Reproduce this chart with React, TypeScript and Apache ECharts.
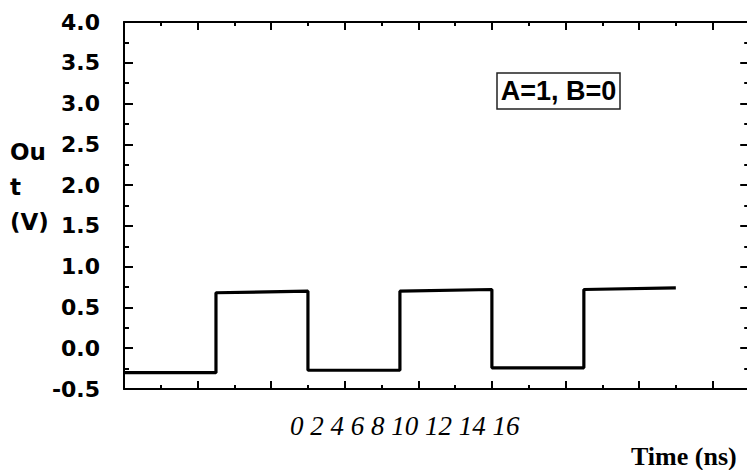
import React, { useEffect, useRef } from "react";
import * as echarts from "echarts";

// Data
const timeNs = [0, 2.5, 2.5, 5, 5, 7.5, 7.5, 10, 10, 12.5, 12.5, 15];
const outVolts = [-0.3, -0.3, 0.68, 0.7, -0.27, -0.27, 0.7, 0.72, -0.24, -0.24, 0.72, 0.74];
const xTickLabels = ["0", "2", "4", "6", "8", "10", "12", "14", "16"];
const yAxisNameLines = ["Ou", "t", "(V)"];
const xAxisTitle = "Time (ns)";
const annotation = "A=1, B=0";

export default function App() {
  const ref = useRef<HTMLDivElement>(null);

  useEffect(() => {
    if (!ref.current) return;
    const chart = echarts.init(ref.current, undefined, { renderer: "svg" });
    const seriesData = timeNs.map((t, i) => [t, outVolts[i]]);
    const axisLine = { show: true, onZero: false, lineStyle: { color: "#000", width: 2 } };
    const xCommon = {
      type: "value" as const,
      min: 0,
      max: 18,
      interval: 2,
      axisLine,
      axisTick: { show: true, inside: true, length: 8, lineStyle: { color: "#000", width: 2 } },
      minorTick: { show: true, splitNumber: 2, length: 4, lineStyle: { color: "#000", width: 2 } },
      axisLabel: { show: false },
      splitLine: { show: false },
      minorSplitLine: { show: false },
    };
    const yCommon = {
      type: "value" as const,
      min: -0.5,
      max: 4,
      interval: 0.5,
      axisLine,
      axisTick: { show: true, inside: true, length: 9, lineStyle: { color: "#000", width: 2 } },
      minorTick: { show: true, splitNumber: 2, length: 5, lineStyle: { color: "#000", width: 2 } },
      splitLine: { show: false },
      minorSplitLine: { show: false },
    };
    chart.setOption({
      animation: false,
      backgroundColor: "#fff",
      grid: {
        left: 124,
        top: 22,
        right: -39.2,
        bottom: 81,
        containLabel: false,
        outerBoundsMode: "none",
      },
      xAxis: [
        { ...xCommon, position: "bottom" },
        { ...xCommon, position: "top" },
      ],
      yAxis: [
        {
          ...yCommon,
          position: "left",
          axisLabel: {
            show: true,
            margin: 24,
            color: "#000",
            fontFamily: "DejaVu Sans",
            fontWeight: "bold",
            fontSize: 22,
            formatter: (v: number) => v.toFixed(1),
          },
        },
        { ...yCommon, position: "right", offset: -37, axisLabel: { show: false } },
      ],
      series: [
        {
          type: "line",
          data: seriesData,
          showSymbol: false,
          symbol: "none",
          lineStyle: { color: "#000", width: 3.2 },
          xAxisIndex: 0,
          yAxisIndex: 0,
        },
      ],
      graphic: [
        {
          type: "text",
          style: {
            text: yAxisNameLines.join("\n"),
            x: 10,
            y: 134,
            fill: "#000",
            fontFamily: "DejaVu Sans",
            fontWeight: "bold",
            fontSize: 23,
            lineHeight: 35,
            textAlign: "left",
            textVerticalAlign: "top",
          },
        },
        {
          type: "rect",
          shape: { x: 497, y: 73, width: 123, height: 36 },
          style: { fill: "#fff", stroke: "#222", lineWidth: 1.5 },
          z: 10,
        },
        {
          type: "text",
          z: 11,
          style: {
            text: annotation,
            x: 558.5,
            y: 91,
            fill: "#000",
            fontFamily: "Liberation Sans",
            fontWeight: "bold",
            fontSize: 27,
            textAlign: "center",
            textVerticalAlign: "middle",
          },
        },
        {
          type: "text",
          style: {
            text: xTickLabels.join(" "),
            x: 290,
            y: 426,
            fill: "#000",
            fontFamily: "Liberation Serif",
            fontStyle: "italic",
            fontSize: 27,
            textAlign: "left",
            textVerticalAlign: "middle",
          },
        },
        {
          type: "text",
          style: {
            text: xAxisTitle,
            x: 631,
            y: 456,
            fill: "#000",
            fontFamily: "Liberation Serif",
            fontWeight: "bold",
            fontSize: 26,
            textAlign: "left",
            textVerticalAlign: "middle",
          },
        },
      ],
    });
    return () => chart.dispose();
  }, []);

  return (
    <div
      ref={ref}
      style={{ position: "absolute", left: 0, top: 0, width: 747, height: 470 }}
    />
  );
}
